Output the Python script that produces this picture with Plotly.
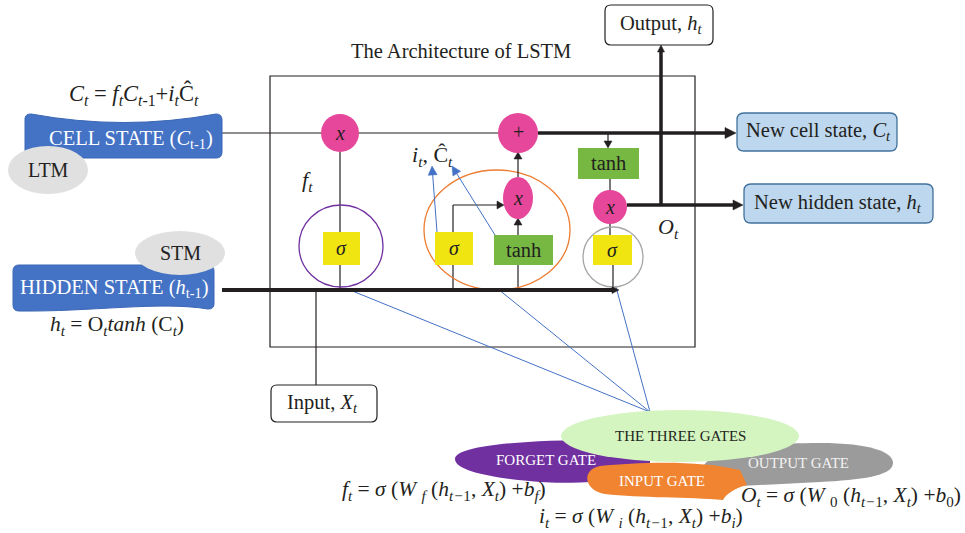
import math
import plotly.graph_objects as go

# ---- text content ----
title_text = "The Architecture of LSTM"
gate_labels = ["FORGET GATE", "INPUT GATE", "OUTPUT GATE", "THE THREE GATES"]
state_labels = ["CELL STATE (<i>C</i><sub>t-1</sub>)", "HIDDEN STATE (<i>h</i><sub>t-1</sub>)"]
memory_labels = ["LTM", "STM"]
io_labels = ["Output, <i>h<sub>t</sub></i>", "Input, <i>X<sub>t</sub></i>",
             "New cell state, <i>C<sub>t</sub></i>", "New hidden state, <i>h<sub>t</sub></i>"]
op_labels = ["<i>x</i>", "+", "<i>σ</i>", "tanh"]
formulas = [
    "<i>C<sub>t</sub></i> = <i>f<sub>t</sub>C<sub>t</sub></i><sub>-1</sub>+<i>i<sub>t</sub></i>Ĉ<sub><i>t</i></sub>",
    "<i>h<sub>t</sub></i> = O<sub><i>t</i></sub><i>tanh</i> (C<sub><i>t</i></sub>)",
    "<i>f<sub>t</sub></i> = <i>σ</i> (<i>W</i> <sub><i>f</i></sub> (<i>h<sub>t−</sub></i><sub>1</sub>, <i>X<sub>t</sub></i>) +<i>b<sub>f</sub></i>)",
    "<i>i<sub>t</sub></i> = <i>σ</i> (<i>W</i> <sub><i>i</i></sub> (<i>h<sub>t−</sub></i><sub>1</sub>, <i>X<sub>t</sub></i>) +<i>b<sub>i</sub></i>)",
    "<i>O<sub>t</sub></i> = <i>σ</i> (<i>W</i> <sub>0</sub> (<i>h<sub>t−</sub></i><sub>1</sub>, <i>X<sub>t</sub></i>) +<i>b</i><sub>0</sub>)",
]
gate_vars = ["<i>f<sub>t</sub></i>", "<i>i<sub>t</sub></i>, Ĉ<sub><i>t</i></sub>", "<i>O<sub>t</sub></i>"]

W, H = 965, 533
FONT = "Liberation Serif"
INK = "#231f20"
PINK = "#E6479A"
YEL = "#F0E510"
GRN = "#77B843"
LBLUE = "#BDD7EE"
BBORD = "#41719C"
BLUE = "#4472C4"

shapes = []
ann = []


def line(x0, y0, x1, y1, color=INK, w=1.2):
    shapes.append(dict(type="line", x0=x0, y0=y0, x1=x1, y1=y1, line=dict(color=color, width=w)))


def rect(x0, y0, x1, y1, fill, border=None, w=1):
    shapes.append(dict(type="rect", x0=x0, y0=y0, x1=x1, y1=y1, fillcolor=fill,
                       line=dict(color=border or fill, width=w if border else 0)))


def ell(cx, cy, rx, ry, fill=None, border=None, w=1.2):
    shapes.append(dict(type="circle", x0=cx - rx, x1=cx + rx, y0=cy - ry, y1=cy + ry,
                       fillcolor=fill or "rgba(0,0,0,0)",
                       line=dict(color=border or "rgba(0,0,0,0)", width=w if border else 0)))


def path(d, fill, border=None, w=1):
    shapes.append(dict(type="path", path=d, fillcolor=fill,
                       line=dict(color=border or "rgba(0,0,0,0)", width=w if border else 0)))


def rrect(x0, y0, x1, y1, r, fill, border, w=1.2):
    d = (f"M {x0+r},{y0} L {x1-r},{y0} Q {x1},{y0} {x1},{y0+r} L {x1},{y1-r} Q {x1},{y1} {x1-r},{y1} "
         f"L {x0+r},{y1} Q {x0},{y1} {x0},{y1-r} L {x0},{y0+r} Q {x0},{y0} {x0+r},{y0} Z")
    path(d, fill, border, w)


def text(x, y, s, size=20.5, color=INK, xanchor="center"):
    ann.append(dict(x=x, y=y, text=s, showarrow=False, xanchor=xanchor, yanchor="middle",
                    font=dict(family=FONT, size=size, color=color)))


def arrow(x0, y0, x1, y1, color=INK, w=1.2, L=7, hw=4):
    dx, dy = x1 - x0, y1 - y0
    n = math.hypot(dx, dy)
    ux, uy = dx / n, dy / n
    bx, by = x1 - ux * L, y1 - uy * L
    line(x0, y0, bx + ux * 1, by + uy * 1, color, w)
    px, py = -uy * hw, ux * hw
    d = (f"M {x1:.2f},{y1:.2f} L {bx+px:.2f},{by+py:.2f} L {bx-px:.2f},{by-py:.2f} Z")
    path(d, color, color, 0.5)


# ---- main box ----
rect(270, 76, 695, 347, "rgba(0,0,0,0)", INK, 1.2)
text(461, 51, title_text, 20.5)

# ---- thin black lines ----
line(222, 133, 500, 133)                 # cell state line
line(340, 152, 340, 290)                 # forget gate vertical
line(518, 290, 518, 265)                 # tanh down
line(610, 179, 610, 192)
line(610, 222, 610, 235)
line(613, 265, 613, 288)
line(316, 290, 316, 385)                 # input X_t
line(453, 290, 453, 205)                 # input sigma vertical

# blue pointer lines to the three gates
for (bx, by) in [(345, 288), (498, 289), (616, 287)]:
    line(bx, by, 650, 412, BLUE, 1)

# ---- gate enclosing circles ----
ell(341, 246, 42, 41, border="#7030A0", w=1.3)
ell(497, 230, 73, 60, border="#ED7D31", w=1.3)
ell(613, 257, 30, 30, border="#A6A6A6", w=1.3)

# ---- operation boxes ----
rect(323, 232, 360, 265, YEL)
rect(435, 232, 473, 265, YEL)
rect(593, 235, 632, 265, YEL)
rect(494, 235, 553, 265, GRN)
rect(578, 148, 639, 179, GRN)

# ---- arrows (drawn before pink operators so heads touch their rims) ----
arrow(453, 205, 504, 205)                          # sigma -> x
arrow(518, 235, 518, 218)                          # tanh -> x
arrow(518, 177, 518, 152)                          # x -> +
arrow(608, 133, 608, 148)                          # cell -> tanh
arrow(538, 133, 736, 133, w=3.5, L=11, hw=5.5)     # new cell state
arrow(627, 205, 743, 205, w=3.5, L=10, hw=5)       # new hidden state
arrow(661, 205, 661, 45, w=3.5, L=7, hw=3.5)       # output
arrow(222, 290, 619, 290, w=4, L=7, hw=3.5)        # hidden line
arrow(437, 232, 432, 166, BLUE, 1, L=9, hw=4.5)    # to i_t
arrow(495, 235, 452, 166, BLUE, 1, L=9, hw=4.5)    # to C_t

# ---- pink operators ----
ell(340, 133, 19, 19, PINK)
ell(518, 133, 20, 20, PINK)
ell(518, 198, 15, 21, PINK)
ell(610, 207, 17, 17, PINK)

# ---- left side states ----
path("M 25,119 Q 25,114 31,114 Q 124,131 216,114 Q 222,114 222,120 L 222,152 Q 222,158 216,158 "
     "L 31,158 Q 25,158 25,152 Z", BLUE, "#3A66B5", 1)
ell(48, 170, 40, 24, "#E0E0E0")
path("M 19,265 L 208,265 Q 214,265 214,271 L 214,304 Q 214,309 208,309 C 160,301 90,312 19,311 "
     "Q 13,311 13,305 L 13,271 Q 13,265 19,265 Z", BLUE, "#3A66B5", 1)
ell(180, 253, 45, 22, "#E0E0E0")

# ---- right side / io boxes ----
rrect(605, 5, 713, 45, 6, "white", INK, 1.2)
rrect(271, 385, 377, 422, 6, "white", INK, 1.2)
rrect(737, 113, 897, 151, 7, LBLUE, BBORD, 1.3)
rrect(744, 184, 933, 223, 7, LBLUE, BBORD, 1.3)

# ---- bottom blobs ----
path("M 455,459 C 455,446 520,440 600,440 L 650,444 L 650,478 C 600,482 565,484 540,482 "
     "C 500,479 455,472 455,459 Z", "#7030A0")
path("M 703,467 C 710,450 760,443 820,443 C 870,443 893,452 893,463 C 893,476 860,480 820,482 "
     "L 740,486 L 703,480 Z", "#9B9B9B")
path("M 600,466 C 640,462 700,460 740,470 L 747,485 C 735,488 726,494 723,500 "
     "C 690,497 640,498 605,494 C 585,491 580,470 600,466 Z", "#F08431")
ell(680, 436, 119, 26, "#D4F4C0")

# ---- texts ----
text(134, 94, formulas[0], 22.5)
text(117, 325, formulas[1], 21.5)
text(444, 490, formulas[2], 21.5)
text(641, 517, formulas[3], 21.5)
text(851, 496, formulas[4], 21.5)

text(131, 139, state_labels[0], 20.5, "white")
text(114, 288, state_labels[1], 20.5, "white")
text(48, 170, memory_labels[0], 20)
text(180, 253, memory_labels[1], 20)

text(661, 24, io_labels[0], 20.5)
text(322, 403, io_labels[1], 20.5)
text(818, 131, io_labels[2], 20.5)
text(838, 203, io_labels[3], 20.5)

text(546, 460, gate_labels[0], 15, "white")
text(662, 481, gate_labels[1], 15, "white")
text(798, 463, gate_labels[2], 15, "#F2F2F2")
text(680, 436, gate_labels[3], 15, INK)

text(340, 133, op_labels[0], 20)
text(518, 132, op_labels[1], 20)
text(518, 198, op_labels[0], 20)
text(610, 207, op_labels[0], 20)
for cx, cy in [(341, 248), (454, 248), (612, 250)]:
    text(cx, cy, op_labels[2], 20)
text(523, 250, op_labels[3], 20.5)
text(608, 163, op_labels[3], 20.5)

text(307, 181, gate_vars[0], 22)
text(432, 156, gate_vars[1], 22)
text(668, 228, gate_vars[2], 22)

fig = go.Figure()
fig.update_layout(
    width=W, height=H, margin=dict(l=0, r=0, t=0, b=0),
    paper_bgcolor="white", plot_bgcolor="white",
    xaxis=dict(range=[0, W], visible=False, fixedrange=True),
    yaxis=dict(range=[H, 0], visible=False, fixedrange=True),
    shapes=shapes, annotations=ann, showlegend=False,
)
fig.write_html("out.html", config={"displayModeBar": False},
               post_script="document.body.style.margin='0';document.body.style.overflow='hidden';")
